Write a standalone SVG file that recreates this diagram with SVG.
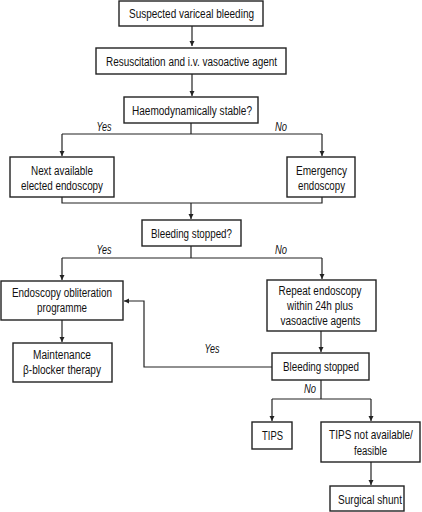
<svg xmlns="http://www.w3.org/2000/svg" width="422" height="512" viewBox="0 0 422 512">
<defs>
<marker id="ah" markerWidth="6" markerHeight="6" refX="5" refY="3" orient="auto" markerUnits="userSpaceOnUse">
<path d="M0,0.5 L5,3 L0,5.5 Z" fill="#222"/>
</marker>
<style>
.box{fill:#fff;stroke:#222;stroke-width:1.4}
.t{font-family:"Liberation Sans",Arial,sans-serif;font-size:12.5px;fill:#111;text-anchor:middle}
.l{font-family:"Liberation Sans",Arial,sans-serif;font-size:12.5px;font-style:italic;fill:#111;text-anchor:middle}
.c{fill:none;stroke:#222;stroke-width:1.2}
.a{marker-end:url(#ah)}
</style>
</defs>
<rect width="422" height="512" fill="#fff"/>
<g id="connectors">
<path class="c a" d="M192,26 V46"/>
<path class="c a" d="M192,74 V96"/>
<path class="c" d="M191,123 V134 M62,134 H322"/>
<path class="c a" d="M62,134 V156"/>
<path class="c a" d="M322,134 V156"/>
<path class="c" d="M62,197 V203 H322 V197"/>
<path class="c a" d="M191,203 V219"/>
<path class="c" d="M191,246 V258 M62,258 H322"/>
<path class="c a" d="M62,258 V280"/>
<path class="c a" d="M322,258 V279"/>
<path class="c a" d="M321,331 V352"/>
<path class="c a" d="M272,367 H144 V301 H124"/>
<path class="c a" d="M62,320 V342"/>
<path class="c" d="M321,380 V399 M272,399 H371"/>
<path class="c a" d="M272,399 V421"/>
<path class="c a" d="M371,399 V421"/>
<path class="c a" d="M371,462 V485"/>
<text class="l" x="104" y="131" textLength="15" lengthAdjust="spacingAndGlyphs">Yes</text>
<text class="l" x="281" y="131" textLength="12" lengthAdjust="spacingAndGlyphs">No</text>
<text class="l" x="104" y="254" textLength="15" lengthAdjust="spacingAndGlyphs">Yes</text>
<text class="l" x="281" y="254" textLength="12" lengthAdjust="spacingAndGlyphs">No</text>
<text class="l" x="212" y="353" textLength="15" lengthAdjust="spacingAndGlyphs">Yes</text>
<text class="l" x="310" y="393" textLength="12" lengthAdjust="spacingAndGlyphs">No</text>
</g>
<g id="n1"><rect class="box" x="119" y="1" width="144" height="25"/><text class="t" x="191.5" y="18" textLength="125" lengthAdjust="spacingAndGlyphs">Suspected variceal bleeding</text></g>
<g id="n2"><rect class="box" x="96" y="48" width="190" height="26"/><text class="t" x="191.5" y="65.5" textLength="171" lengthAdjust="spacingAndGlyphs">Resuscitation and i.v. vasoactive agent</text></g>
<g id="n3"><rect class="box" x="124" y="97" width="134" height="26"/><text class="t" x="192" y="114.5" textLength="120" lengthAdjust="spacingAndGlyphs">Haemodynamically stable?</text></g>
<g id="n4"><rect class="box" x="10" y="157" width="104" height="40"/><text class="t" x="62" y="175" textLength="62" lengthAdjust="spacingAndGlyphs">Next available</text><text class="t" x="62" y="189.5" textLength="82" lengthAdjust="spacingAndGlyphs">elected endoscopy</text></g>
<g id="n5"><rect class="box" x="287" y="157" width="68" height="40"/><text class="t" x="321.5" y="175" textLength="51" lengthAdjust="spacingAndGlyphs">Emergency</text><text class="t" x="321.5" y="189.5" textLength="47" lengthAdjust="spacingAndGlyphs">endoscopy</text></g>
<g id="n6"><rect class="box" x="142" y="220" width="99" height="26"/><text class="t" x="191.5" y="237.5" textLength="81" lengthAdjust="spacingAndGlyphs">Bleeding stopped?</text></g>
<g id="n7"><rect class="box" x="1" y="281" width="122" height="39"/><text class="t" x="62" y="296.5" textLength="100" lengthAdjust="spacingAndGlyphs">Endoscopy obliteration</text><text class="t" x="62" y="311.5" textLength="50" lengthAdjust="spacingAndGlyphs">programme</text></g>
<g id="n8"><rect class="box" x="267" y="280" width="109" height="51"/><text class="t" x="320" y="294.5" textLength="83" lengthAdjust="spacingAndGlyphs">Repeat endoscopy</text><text class="t" x="320" y="309.5" textLength="66" lengthAdjust="spacingAndGlyphs">within 24h plus</text><text class="t" x="320.5" y="324.5" textLength="80" lengthAdjust="spacingAndGlyphs">vasoactive agents</text></g>
<g id="n9"><rect class="box" x="13" y="343" width="99" height="39"/><text class="t" x="62" y="358.5" textLength="58" lengthAdjust="spacingAndGlyphs">Maintenance</text><text class="t" x="62" y="373.5" textLength="78" lengthAdjust="spacingAndGlyphs">β-blocker therapy</text></g>
<g id="n10"><rect class="box" x="272" y="353" width="97" height="27"/><text class="t" x="321" y="370.5" textLength="76" lengthAdjust="spacingAndGlyphs">Bleeding stopped</text></g>
<g id="n11"><rect class="box" x="252" y="422" width="40" height="27"/><text class="t" x="272.5" y="440" textLength="21" lengthAdjust="spacingAndGlyphs">TIPS</text></g>
<g id="n12"><rect class="box" x="321" y="422" width="99" height="40"/><text class="t" transform="translate(371,439) scale(0.8,1)" x="0" y="0">TIPS not available/</text><text class="t" x="370.5" y="455" textLength="33" lengthAdjust="spacingAndGlyphs">feasible</text></g>
<g id="n13"><rect class="box" x="330" y="486" width="74" height="25"/><text class="t" x="370" y="503.5" textLength="64" lengthAdjust="spacingAndGlyphs">Surgical shunt</text></g>
</svg>
